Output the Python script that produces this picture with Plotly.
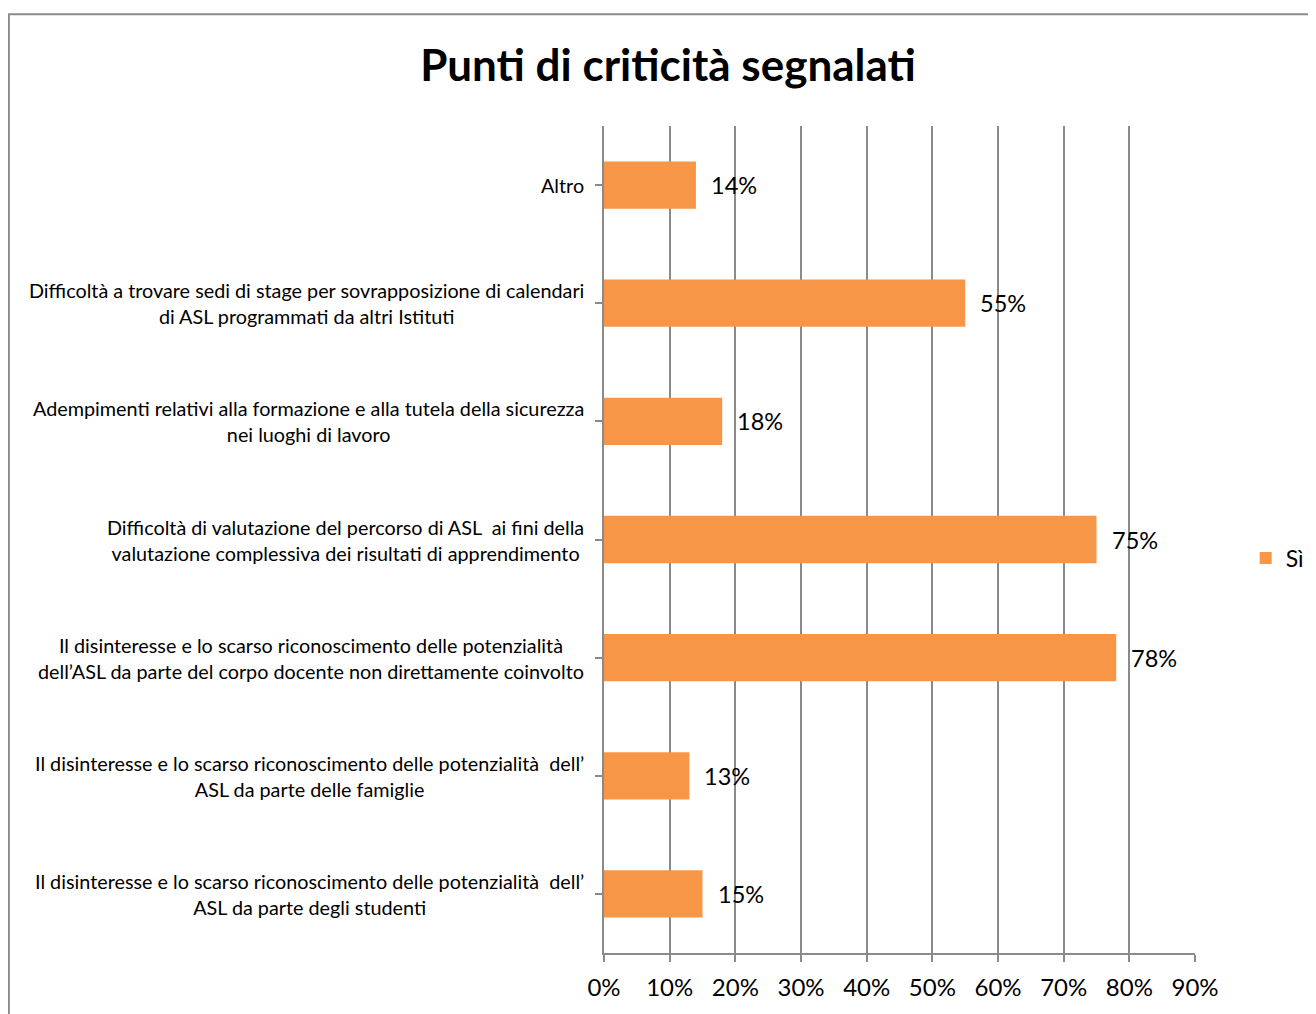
"""Punti di criticità segnalati - horizontal bar chart."""

import plotly.graph_objects as go

# categories from bottom to top
categories = [
    "Il disinteresse e lo scarso riconoscimento delle potenzialità  dell’<br>ASL da parte degli studenti",
    "Il disinteresse e lo scarso riconoscimento delle potenzialità  dell’<br>ASL da parte delle famiglie",
    "Il disinteresse e lo scarso riconoscimento delle potenzialità<br>dell’ASL da parte del corpo docente non direttamente coinvolto",
    "Difficoltà di valutazione del percorso di ASL  ai fini della<br>valutazione complessiva dei risultati di apprendimento",
    "Adempimenti relativi alla formazione e alla tutela della sicurezza<br>nei luoghi di lavoro",
    "Difficoltà a trovare sedi di stage per sovrapposizione di calendari<br>di ASL programmati da altri Istituti",
    "Altro",
]
si_values = [15, 13, 78, 75, 18, 55, 14]
x_ticks = [0, 10, 20, 30, 40, 50, 60, 70, 80, 90]

FONT = "Lato"
ORANGE = "#F79646"
GRID = "#8A8A8A"

fig = go.Figure(go.Bar(
    y=list(range(len(categories))),
    x=si_values,
    orientation="h",
    name="Sì",
    marker=dict(color=ORANGE, line=dict(width=0)),
    width=0.4,
))

# data labels
for i, v in enumerate(si_values):
    fig.add_annotation(
        x=v, y=i, text=f"{v}%", showarrow=False,
        xanchor="left", xshift=13,
        font=dict(family=FONT, size=23.5, color="black"),
    )

# category labels, centred lines, right aligned block
for i, c in enumerate(categories):
    fig.add_annotation(
        x=0, y=i, xref="paper", text=c, showarrow=False,
        xanchor="right", xshift=-18, align="center",
        font=dict(family=FONT, size=19.8, color="black"),
    )

# outer chart border
fig.add_shape(
    type="rect", xref="paper", yref="paper",
    x0=-1.007, x1=1.4, y0=-0.2, y1=1.135,
    line=dict(color="#8A8A8A", width=2),
)

fig.update_layout(
    width=1316,
    height=1014,
    margin=dict(l=596, r=129, t=118, b=69),
    paper_bgcolor="white",
    plot_bgcolor="white",
    title=dict(
        text="<b>Punti di criticità segnalati</b>",
        x=0.5015, xref="container", xanchor="center",
        y=0.943, yref="container", yanchor="middle",
        font=dict(family=FONT, size=44, color="black"),
    ),
    showlegend=True,
    legend=dict(
        x=0.9405, y=0.4576, xref="container", yref="container",
        xanchor="left", yanchor="middle",
        font=dict(family=FONT, size=23, color="black"),
        bgcolor="rgba(0,0,0,0)",
    ),
    xaxis=dict(
        range=[0, 90],
        tickvals=x_ticks,
        ticktext=[f"{t}%" for t in x_ticks],
        showgrid=True, gridcolor=GRID, gridwidth=1.5,
        showline=True, linecolor=GRID, linewidth=1.5,
        ticks="outside", ticklen=7, tickcolor=GRID, tickwidth=1.5,
        ticklabelstandoff=5,
        tickfont=dict(family=FONT, size=24, color="black"),
        zeroline=False,
    ),
    yaxis=dict(
        range=[-0.5, len(categories) - 0.5],
        tickvals=list(range(len(categories))),
        showticklabels=False,
        tickson="boundaries",
        ticks="outside", ticklen=7, tickcolor=GRID, tickwidth=1.5,
        showline=True, linecolor=GRID, linewidth=1.5,
        showgrid=False, zeroline=False,
    ),
)

fig.write_html("out.html")
